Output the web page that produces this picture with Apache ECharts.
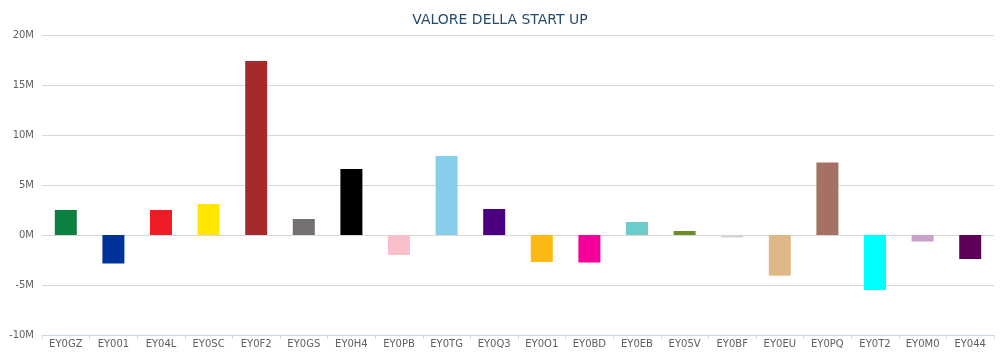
<!DOCTYPE html>
<html>
<head>
<meta charset="utf-8">
<script src="https://cdn.jsdelivr.net/npm/echarts@6/dist/echarts.min.js"></script>
<style>html,body{margin:0;padding:0;background:#fff}#c{width:1000px;height:360px}</style>
</head>
<body>
<div id="c"></div>
<script>
const categories = ['EY0GZ','EY001','EY04L','EY0SC','EY0F2','EY0GS','EY0H4','EY0PB','EY0TG','EY0Q3','EY0O1','EY0BD','EY0EB','EY05V','EY0BF','EY0EU','EY0PQ','EY0T2','EY0M0','EY044'];
const values = [2.5e6, -2.85e6, 2.5e6, 3.1e6, 17.4e6, 1.6e6, 6.6e6, -2.0e6, 7.9e6, 2.6e6, -2.7e6, -2.75e6, 1.3e6, 0.4e6, -0.25e6, -4.07e6, 7.25e6, -5.5e6, -0.65e6, -2.4e6];
const colors = ['#0c8040','#003399','#ee1c25','#ffe500','#a52a2a','#767171','#000000','#f9c0cb','#87ceeb','#4b0082','#fdb913','#f5009b','#6ccbcb','#6b8e23','#d3d3d3','#deb887','#a57164','#00ffff','#c8a2c8','#5e0058'];
const yTicks = {min: -10e6, max: 20e6, interval: 5e6};

const chart = echarts.init(document.getElementById('c'));
chart.setOption({
  animation: false,
  title: {
    text: 'VALORE DELLA START UP',
    left: 'center',
    top: 8,
    textStyle: {fontFamily: 'DejaVu Sans', fontSize: 14, fontWeight: 'normal', color: '#274b6d'}
  },
  grid: {left: 42, right: 6, top: 35, bottom: 25, containLabel: false},
  xAxis: {
    type: 'category',
    data: categories,
    axisLine: {onZero: false, lineStyle: {color: '#ccd6eb', width: 1}},
    axisTick: {show: true, length: 4, lineStyle: {color: '#ccd6eb'}},
    axisLabel: {fontFamily: 'DejaVu Sans', fontSize: 10, color: '#606060', margin: 4}
  },
  yAxis: {
    type: 'value',
    min: yTicks.min, max: yTicks.max, interval: yTicks.interval,
    axisLine: {show: false},
    axisTick: {show: false},
    splitLine: {lineStyle: {color: '#d8d8d8', width: 1}},
    axisLabel: {
      fontFamily: 'DejaVu Sans', fontSize: 10, color: '#606060', margin: 8,
      formatter: v => (v / 1e6) + 'M'
    }
  },
  series: [{
    type: 'bar',
    data: values.map((v, i) => ({value: v, itemStyle: {color: colors[i]}})),
    barWidth: 22
  }]
});
</script>
</body>
</html>
